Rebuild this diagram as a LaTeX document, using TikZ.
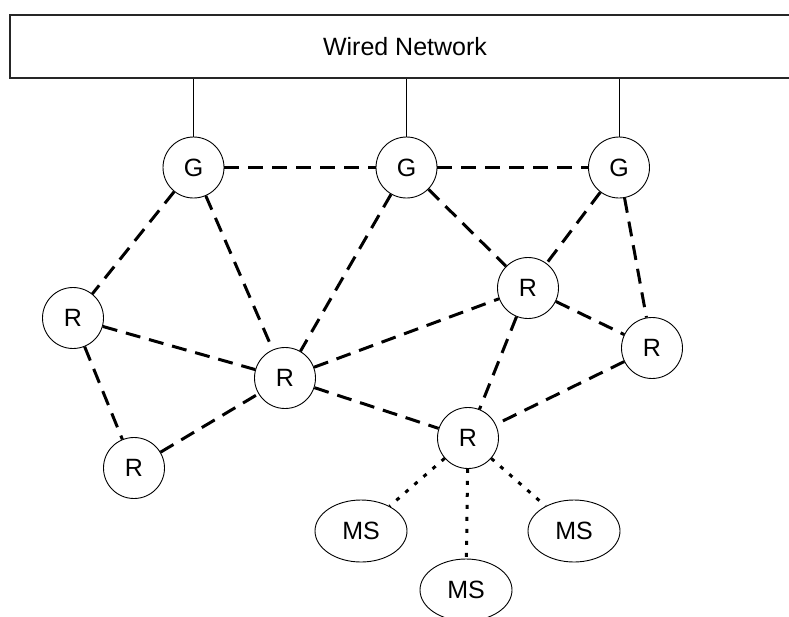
\documentclass[tikz,border=0pt]{standalone}
\usepackage{fontspec}
\setmainfont{Liberation Sans}
\usetikzlibrary{shapes.geometric}
\begin{document}
\begin{tikzpicture}[x=1pt,y=-1pt,
  lbl/.style={font=\fontsize{25}{25}\selectfont},
  station/.style={circle, draw, line width=0.9pt, minimum size=61pt, inner sep=0pt, lbl},
  mobile/.style={ellipse, draw, line width=0.9pt, minimum width=92pt, minimum height=62pt, inner sep=0pt, lbl},
  backbone/.style={draw=black!85, line width=2.2pt, minimum width=790pt, minimum height=63pt, inner sep=0pt, lbl},
  wire/.style={line width=0.9pt},
  meshlink/.style={line width=3pt, dash pattern=on 15pt off 9pt},
  radiolink/.style={line width=3pt, dash pattern=on 4pt off 8pt}
]
\useasboundingbox (0,0) rectangle (789,616);
\clip (0,0) rectangle (789,616);

% wired backbone (right edge runs off the page)
\node[backbone] (wired) at (405,46.5) {Wired Network};

% gateways
\node[station] (g1) at (193.5,167.5) {G};
\node[station] (g2) at (406.5,167.5) {G};
\node[station] (g3) at (619,167.5) {G};

% mesh routers
\node[station] (r1) at (73,318) {R};
\node[station] (r2) at (285,378) {R};
\node[station] (r3) at (134,468) {R};
\node[station] (r4) at (528,288) {R};
\node[station] (r5) at (652,348) {R};
\node[station] (r6) at (468,438) {R};

% mobile stations
\node[mobile] (m1) at (361,531) {MS};
\node[mobile] (m2) at (466,590) {MS};
\node[mobile] (m3) at (574,531) {MS};

% wired uplinks
\foreach \g in {g1,g2,g3}
  \draw[wire] (\g |- wired.south) -- (\g.north);

% wireless mesh links
\draw[meshlink] (g1) -- (g2);
\draw[meshlink] (g2) -- (g3);
\draw[meshlink] (g1) -- (r1);
\draw[meshlink] (g1) -- (r2);
\draw[meshlink] (g2) -- (r2);
\draw[meshlink] (g2) -- (r4);
\draw[meshlink] (g3) -- (r4);
\draw[meshlink] (g3) -- (r5);
\draw[meshlink] (r1) -- (r2);
\draw[meshlink] (r1) -- (r3);
\draw[meshlink] (r3) -- (r2);
\draw[meshlink] (r2) -- (r4);
\draw[meshlink] (r2) -- (r6);
\draw[meshlink] (r4) -- (r5);
\draw[meshlink] (r4) -- (r6);
\draw[meshlink] (r5) -- (r6);

% access links to mobile stations
\draw[radiolink] (r6) -- (m1);
\draw[radiolink] (r6) -- (m2);
\draw[radiolink] (r6) -- (m3);
\end{tikzpicture}
\end{document}
